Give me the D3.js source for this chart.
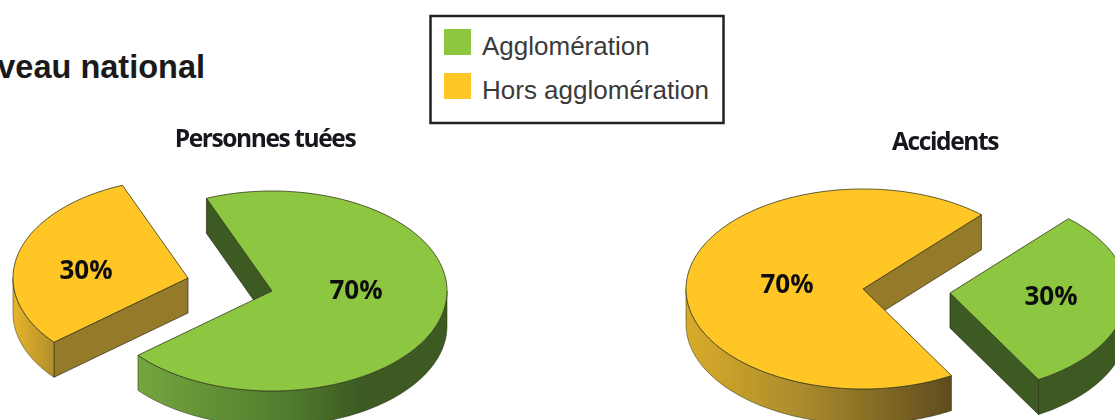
<!DOCTYPE html>
<html>
<head>
<meta charset="utf-8">
<script src="https://cdn.jsdelivr.net/npm/d3@7"></script>
<style>
  html, body { margin: 0; padding: 0; background: #fff; overflow: hidden; }
  svg { display: block; }
</style>
</head>
<body>
<script>
'use strict';

var categories = ["Agglomération", "Hors agglomération"];
var tueesValues = [70, 30];
var accidentsValues = [30, 70];
var valueLabels = function(v) { return v + "%"; };

var width = 1115, height = 420;
var depth = 35;
var rad = Math.PI / 180;

var topColor = d3.scaleOrdinal().domain(categories).range(["#8dc63f", "#ffc627"]);
var wallColor = d3.scaleOrdinal().domain(categories).range(["#3c5a24", "#957a2c"]);

var charts = [
  {
    id: "tuees", title: "Personnes tuées", titleX: 265, titleY: 147,
    values: tueesValues, start: 338, cx: 272, cy: 291, rx: 175, ry: 100,
    offsets: [[0, 0], [-84, -13]],
    labels: [[356, 299], [86, 279]],
    rims: [
      [[0, "#74a53e"], [0.5, "#4f7a2d"], [0.72, "#3c5a24"], [1, "#3c5a24"]],
      [[0, "#e8b52b"], [1, "#b08e2c"]]
    ]
  },
  {
    id: "accidents", title: "Accidents", titleX: 945, titleY: 150,
    values: accidentsValues, start: 42, cx: 863, cy: 289, rx: 177, ry: 100,
    offsets: [[87, 4], [0, 0]],
    labels: [[1051, 305], [787, 293]],
    rims: [
      [[0, "#3c5a24"], [1, "#3c5a24"]],
      [[0, "#d8ab2b"], [0.45, "#a98a2d"], [1, "#5f4c1e"]]
    ]
  }
];

var svg = d3.select("body").append("svg")
  .attr("width", width)
  .attr("height", height);

var defs = svg.append("defs");
// the source is a soft scan
defs.append("filter")
  .attr("id", "soft")
  .attr("filterUnits", "userSpaceOnUse")
  .attr("x", 0).attr("y", 0)
  .attr("width", width).attr("height", height)
  .append("feGaussianBlur")
  .attr("stdDeviation", 0.45);

var line = d3.line();

charts.forEach(function(chart) {
  var x = d3.scaleLinear().domain([-1, 1]).range([chart.cx - chart.rx, chart.cx + chart.rx]);
  var y = d3.scaleLinear().domain([-1, 1]).range([chart.cy - chart.ry, chart.cy + chart.ry]);

  var pie = d3.pie().sort(null)
    .startAngle(chart.start * rad)
    .endAngle((chart.start + 360) * rad);
  var slices = pie(chart.values);

  var g = svg.append("g").attr("id", chart.id).attr("filter", "url(#soft)");

  function point(a, o, dy) {
    return [x(Math.sin(a)) + o[0], y(-Math.cos(a)) + o[1] + (dy || 0)];
  }
  function arcPoints(a0, a1, o, dy) {
    var n = Math.max(2, Math.ceil((a1 - a0) / (1.5 * rad)));
    return d3.range(n + 1).map(function(i) {
      return point(a0 + (a1 - a0) * i / n, o, dy);
    });
  }

  slices.forEach(function(s, i) {
    var cat = categories[i];
    var o = chart.offsets[i];
    var apex = [chart.cx + o[0], chart.cy + o[1]];
    var apexLow = [apex[0], apex[1] + depth];
    var sliceG = g.append("g");

    // a cut wall only shows when it faces down the screen
    [[s.startAngle, -Math.sin(s.startAngle)], [s.endAngle, Math.sin(s.endAngle)]].forEach(function(w) {
      if (w[1] <= 0) return;
      var p = point(w[0], o);
      sliceG.append("path")
        .attr("d", line([apex, p, [p[0], p[1] + depth], apexLow]) + "Z")
        .attr("fill", wallColor(cat))
        .attr("stroke", "#2b2b12")
        .attr("stroke-width", 0.7);
    });

    // front of the rim is the part between 90 and 270 degrees
    [-360, 0, 360].forEach(function(k) {
      var a0 = Math.max(s.startAngle, (90 + k) * rad);
      var a1 = Math.min(s.endAngle, (270 + k) * rad);
      if (a1 <= a0) return;
      var upper = arcPoints(a0, a1, o);
      var lower = arcPoints(a0, a1, o, depth).reverse();
      var xs = d3.extent(upper, function(p) { return p[0]; });
      var gid = chart.id + "-rim-" + i;
      var grad = defs.append("linearGradient")
        .attr("id", gid)
        .attr("gradientUnits", "userSpaceOnUse")
        .attr("x1", xs[0]).attr("x2", xs[1])
        .attr("y1", 0).attr("y2", 0);
      grad.selectAll("stop").data(chart.rims[i]).enter().append("stop")
        .attr("offset", function(d) { return d[0]; })
        .attr("stop-color", function(d) { return d[1]; });
      sliceG.append("path")
        .attr("d", line(upper.concat(lower)) + "Z")
        .attr("fill", "url(#" + gid + ")")
        .attr("stroke", "#2b2b12")
        .attr("stroke-width", 0.5);
    });

    sliceG.append("path")
      .attr("d", line([apex].concat(arcPoints(s.startAngle, s.endAngle, o))) + "Z")
      .attr("fill", topColor(cat))
      .attr("stroke", "#33381a")
      .attr("stroke-width", 0.8);
  });

  g.selectAll(".pct")
    .data(slices)
    .enter().append("text")
    .attr("class", "pct")
    .attr("x", function(d, i) { return chart.labels[i][0]; })
    .attr("y", function(d, i) { return chart.labels[i][1]; })
    .attr("text-anchor", "middle")
    .style("font", "700 26px 'Open Sans', sans-serif")
    .style("fill", "#111")
    .text(function(d) { return valueLabels(d.value); });

  g.append("text")
    .attr("x", chart.titleX)
    .attr("y", chart.titleY)
    .attr("text-anchor", "middle")
    .style("font", "700 24.5px 'Open Sans', sans-serif")
    .style("letter-spacing", "-1.4px")
    .style("fill", "#15151f")
    .text(chart.title);
});

// heading, cut by the left edge in the source
svg.append("text")
  .attr("x", 205)
  .attr("y", 78)
  .attr("text-anchor", "end")
  .style("font", "700 32.5px 'Liberation Sans', Arial, sans-serif")
  .style("fill", "#1a1a1a")
  .text("veau national");

// legend
var legend = svg.append("g").attr("id", "legend");
legend.append("rect")
  .attr("x", 430.5).attr("y", 16)
  .attr("width", 293).attr("height", 107)
  .attr("fill", "#fff")
  .attr("stroke", "#222")
  .attr("stroke-width", 2.5);

var legendY = d3.scalePoint().domain(categories).range([29, 73]);

legend.selectAll(".swatch")
  .data(categories)
  .enter().append("rect")
  .attr("class", "swatch")
  .attr("x", 444)
  .attr("y", function(d) { return legendY(d); })
  .attr("width", 27)
  .attr("height", 26)
  .attr("fill", function(d) { return topColor(d); });

legend.selectAll(".entry")
  .data(categories)
  .enter().append("text")
  .attr("class", "entry")
  .attr("x", 482)
  .attr("y", function(d) { return legendY(d) + 26; })
  .style("font", "26px 'Liberation Sans', Arial, sans-serif")
  .style("fill", "#3a3a3a")
  .text(function(d) { return d; });
</script>
</body>
</html>
